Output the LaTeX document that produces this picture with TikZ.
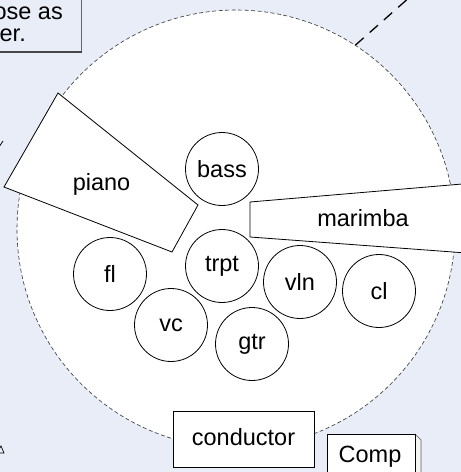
\documentclass[tikz,border=0pt]{standalone}
\usepackage{fontspec}
\setmainfont{Liberation Sans}
\definecolor{bgblue}{HTML}{E8EDF7}
\definecolor{rimgray}{HTML}{333333}
\begin{document}
\begin{tikzpicture}[x=1pt,y=-1pt,
  every node/.style={font=\fontsize{23.5}{26}\selectfont, text=black},
  stagearea/.style={circle, draw=rimgray, fill=white, line width=0.6pt,
    dash pattern=on 4pt off 2.5pt, minimum size=438pt, inner sep=0pt},
  seat/.style={circle, draw=black, fill=white, line width=0.8pt,
    minimum size=73pt, inner sep=0pt},
  instr/.style={draw=black, fill=white, line width=0.8pt, line join=miter},
  boxnode/.style={rectangle, draw=black, fill=white, line width=0.8pt, inner sep=0pt},
  guideline/.style={draw=black, line width=1.3pt, dash pattern=on 11pt off 8pt},
  label/.style={anchor=base, inner sep=0pt}]
\useasboundingbox (0,0) rectangle (461,472);
\clip (0,0) rectangle (461,472);
\fill[bgblue] (0,0) rectangle (461,472);

% stage floor
\node[stagearea] (stage) at (236,229) {};

% guide line leaving the stage towards the upper right
\coordinate (guideend) at (428,-19);
\draw[guideline] (stage.57.5) -- (guideend);

% small marks at the left border
\draw[line width=0.8pt] (-1,147) -- (3,141);
\draw[line width=0.7pt] (-3,453) -- (1,446) -- (4,453) -- cycle;

% piano (keystone shape)
\draw[instr] (58,93) -- (4,187) -- (172,252) -- (198,205) -- cycle;
\node[label] (pianolbl) at (101.5,190) {piano};

% marimba (keystone shape, running off to the right)
\draw[instr] (250,202) -- (480,182.5) -- (480,254) -- (250,237) -- cycle;
\node[label] (marimbalbl) at (363,226) {marimba};

% players
\node[seat] (bass) at (222,169) {bass};
\node[seat] (fl)   at (110,274) {fl};
\node[seat] (trpt) at (222,266) {trpt};
\node[seat] (vln)  at (300,282) {vln};
\node[seat] (cl)   at (379,291) {cl};
\node[seat] (vc)   at (171,325) {vc};
\node[seat] (gtr)  at (252,344) {gtr};

% conductor
\node[boxnode, minimum width=141pt, minimum height=56pt] (conductor) at (243.5,439) {};
\node[label] (conductorlbl) at (243.5,445) {conductor};

% computer box with a receding side face
\fill[gray!8] (415,434) -- (421,440) -- (421,480) -- (415,480) -- cycle;
\draw[gray!70!black, line width=0.6pt] (415,434) -- (421,440) -- (421,480);
\node[boxnode, minimum width=88pt, minimum height=46pt] (comp) at (371,457) {};
\node[label] (complbl) at (370,462) {Comp};

% note box at the upper left
\draw[fill=bgblue, draw=gray!80!black, line width=0.8pt] (-10,-10) rectangle (81,52);
\draw[gray!55!black, line width=1.6pt] (-10,52) -- (81.5,52);
\node[anchor=base east, inner sep=0pt] (noteA) at (63,19) {ose as};
\node[anchor=base east, inner sep=0pt] (noteB) at (26,41) {er.};
\end{tikzpicture}
\end{document}
